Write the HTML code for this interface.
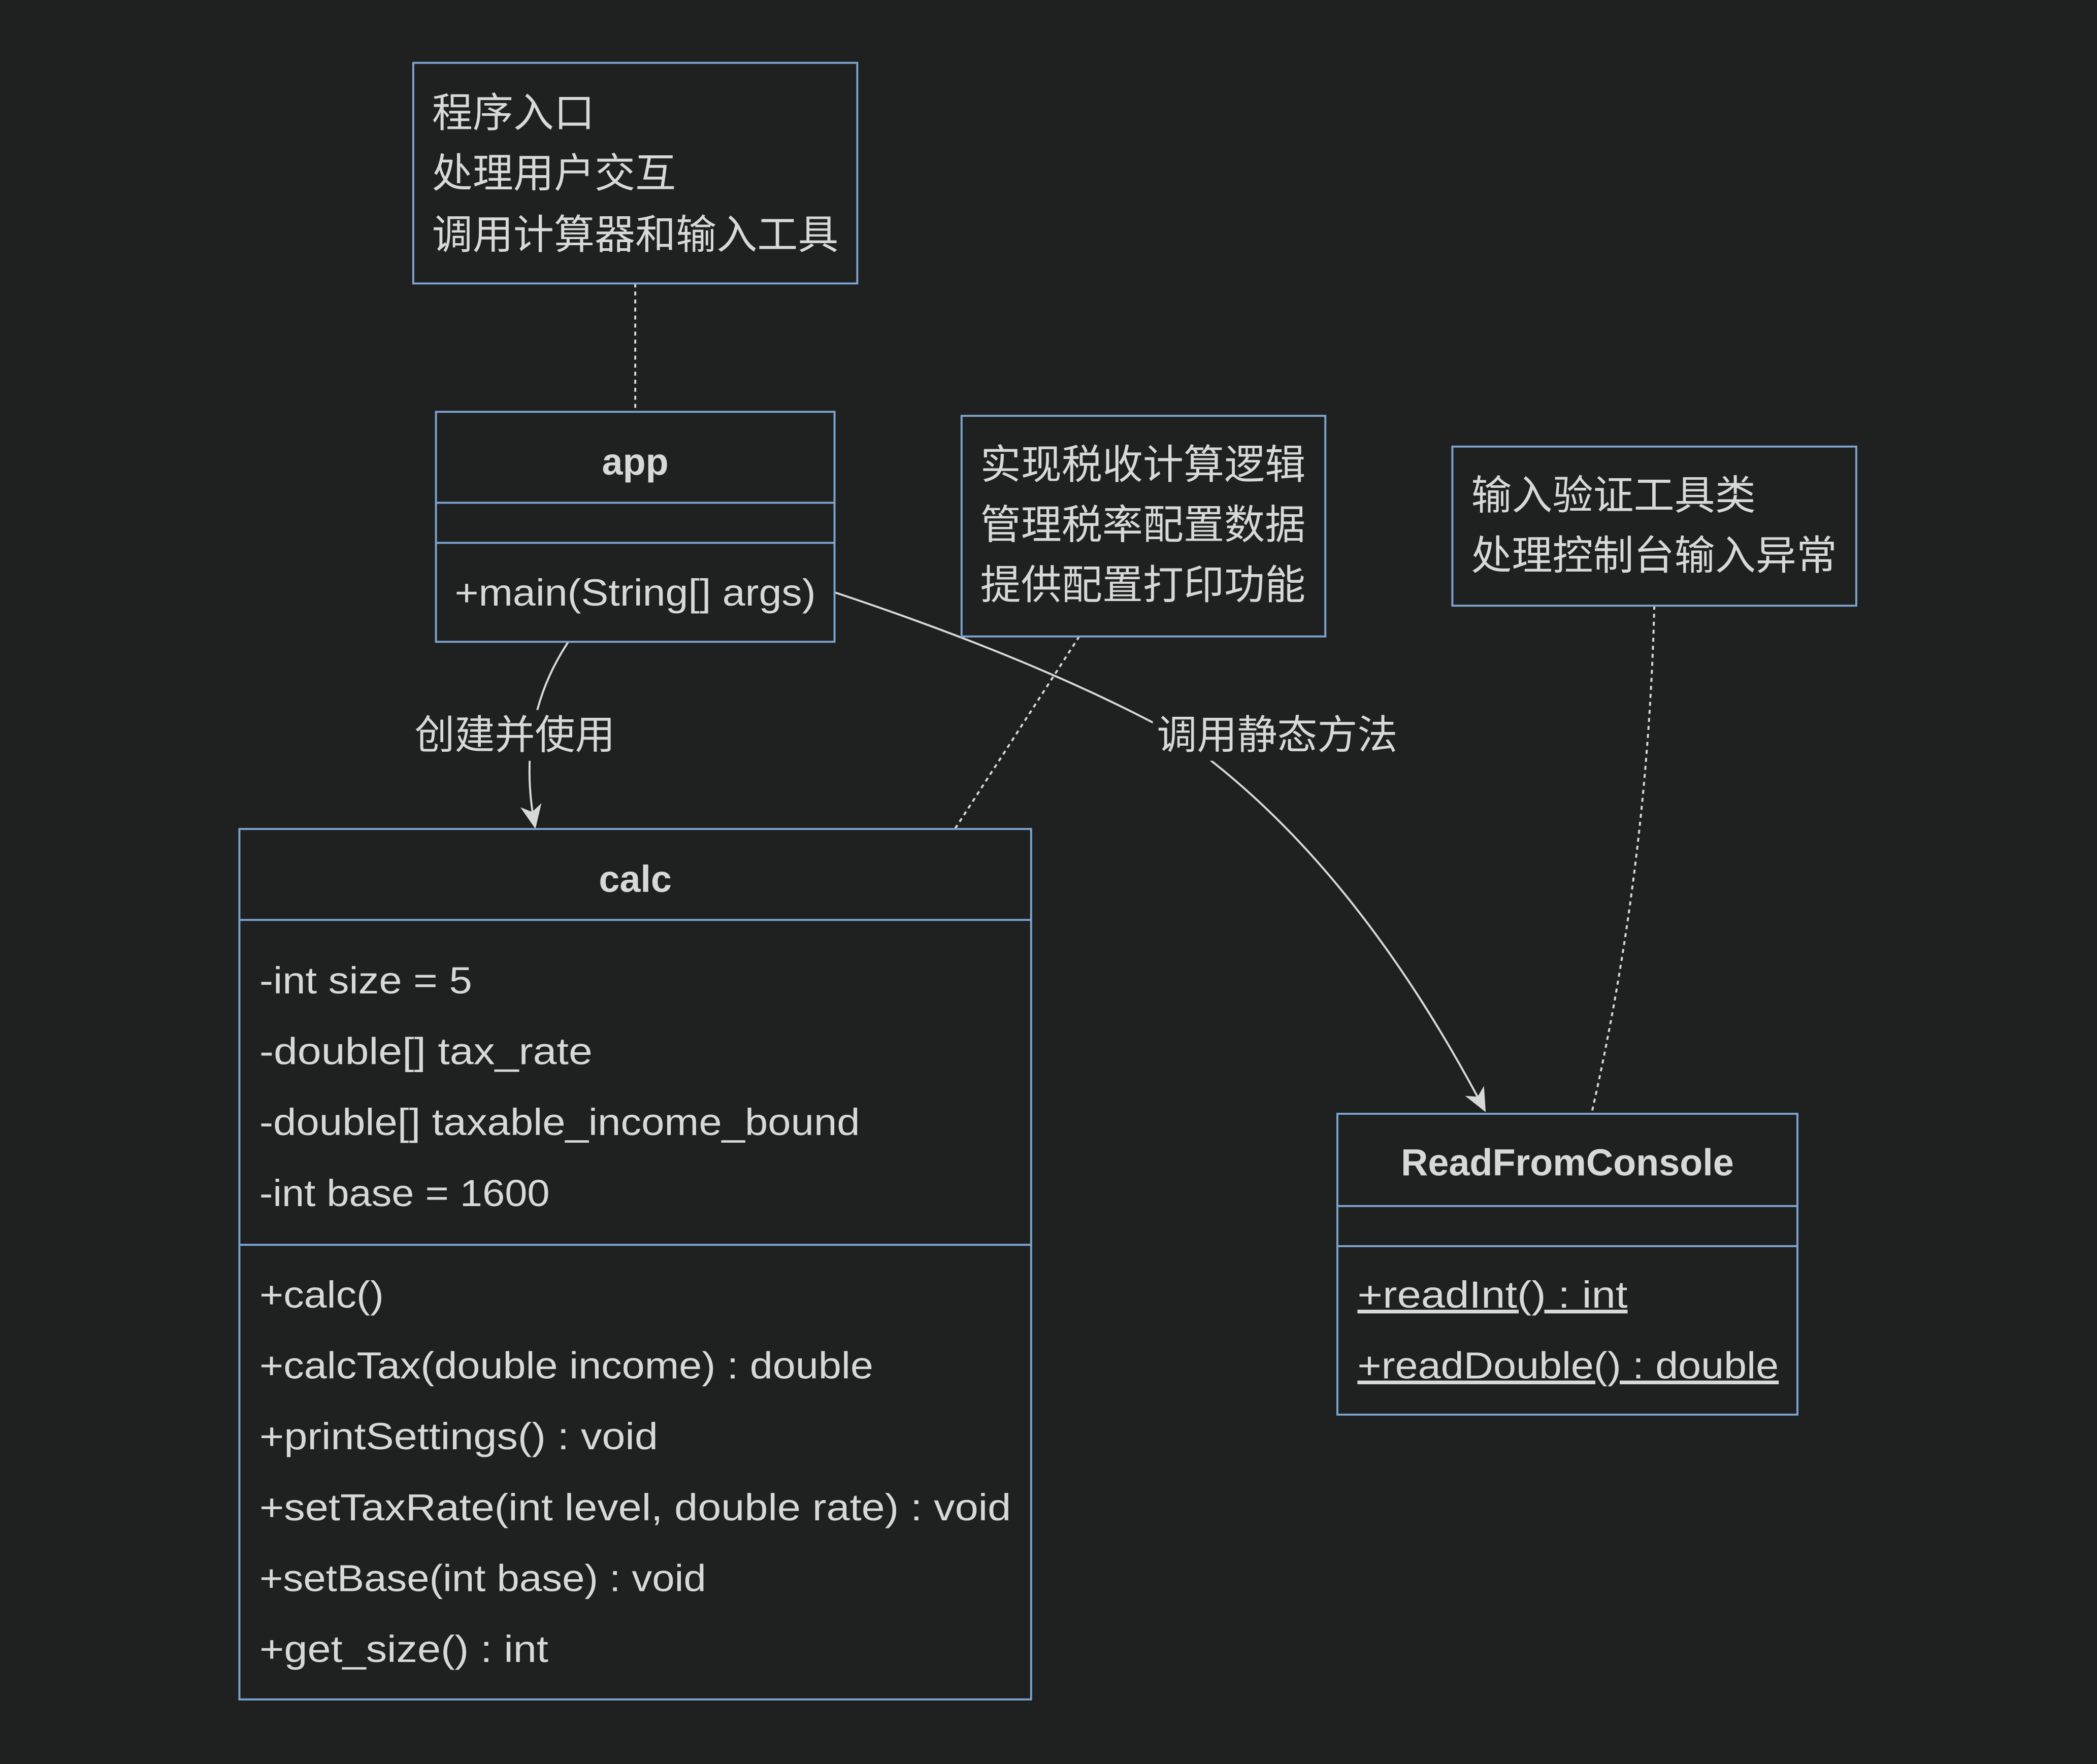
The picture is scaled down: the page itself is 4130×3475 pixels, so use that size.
<!DOCTYPE html>
<html><head><meta charset="utf-8"><style>
html,body{margin:0;padding:0;background:#1f2020;}
svg{display:block}
text{font-family:"Liberation Sans","Noto Sans CJK SC",sans-serif;fill:#d8d8d8;}
</style></head><body>
<svg width="4130" height="3475" viewBox="0 0 1568 1319.3" preserveAspectRatio="none" xmlns="http://www.w3.org/2000/svg">
<rect width="1568" height="1320" fill="#1f2020"/>
<defs><marker id="ah" markerWidth="18" markerHeight="18" refX="16" refY="9" orient="auto" markerUnits="userSpaceOnUse"><path d="M0,1 L18,9 L0,17 L5,9 z" fill="#d8d8d8"/></marker></defs>
<g fill="none" stroke="#d8d8d8" stroke-width="1.5">
<path d="M475,212 L475,308" stroke-dasharray="3,3"/>
<path d="M807,476 L714,620" stroke-dasharray="3,3"/>
<path d="M1237,453 Q1232,650 1190,833" stroke-dasharray="3,3"/>
<path d="M425,480 Q385,540 400,618" marker-end="url(#ah)"/>
<path d="M624,443 Q780,495 880,550 Q1010,640 1110,830" marker-end="url(#ah)"/>
</g>
<g fill="#1f2020" stroke="#7ba3cd" stroke-width="1.5">
<rect x="309" y="47" width="332" height="165"/>
<rect x="719" y="311" width="272" height="165"/>
<rect x="1086" y="334" width="302" height="119"/>
<rect x="326" y="308" width="298" height="172"/>
<rect x="179" y="620" width="592" height="651"/>
<rect x="1000" y="833" width="344" height="225"/>
<path d="M326,376H624M326,406H624M179,688H771M179,931H771M1000,902H1344M1000,932H1344" fill="none"/>
</g>
<g font-size="30.4">
<text x="323" y="95">程序入口</text>
<text x="323" y="140">处理用户交互</text>
<text x="323" y="186">调用计算器和输入工具</text>
<text x="733" y="358">实现税收计算逻辑</text>
<text x="733" y="403">管理税率配置数据</text>
<text x="733" y="448">提供配置打印功能</text>
<text x="1100" y="381">输入验证工具类</text>
<text x="1100" y="426">处理控制台输入异常</text>
</g>
<rect x="308" y="531" width="154" height="38" fill="#1f2020"/>
<text x="385" y="560" font-size="30" text-anchor="middle">创建并使用</text>
<rect x="862" y="531" width="186" height="38" fill="#1f2020"/>
<text x="955" y="560" font-size="30" text-anchor="middle">调用静态方法</text>
<g font-size="28" lengthAdjust="spacingAndGlyphs">
<text x="475" y="355" text-anchor="middle" font-weight="bold">app</text>
<text x="340" y="453" textLength="270" lengthAdjust="spacingAndGlyphs">+main(String[] args)</text>
<text x="475" y="667" text-anchor="middle" font-weight="bold">calc</text>
<text x="194" y="743" textLength="159" lengthAdjust="spacingAndGlyphs">-int size = 5</text>
<text x="194" y="796" textLength="249" lengthAdjust="spacingAndGlyphs">-double[] tax_rate</text>
<text x="194" y="849" textLength="449" lengthAdjust="spacingAndGlyphs">-double[] taxable_income_bound</text>
<text x="194" y="902" textLength="217" lengthAdjust="spacingAndGlyphs">-int base = 1600</text>
<text x="194" y="978" textLength="93" lengthAdjust="spacingAndGlyphs">+calc()</text>
<text x="194" y="1031" textLength="459" lengthAdjust="spacingAndGlyphs">+calcTax(double income) : double</text>
<text x="194" y="1084" textLength="298" lengthAdjust="spacingAndGlyphs">+printSettings() : void</text>
<text x="194" y="1137" textLength="562" lengthAdjust="spacingAndGlyphs">+setTaxRate(int level, double rate) : void</text>
<text x="194" y="1190" textLength="334" lengthAdjust="spacingAndGlyphs">+setBase(int base) : void</text>
<text x="194" y="1243" textLength="216" lengthAdjust="spacingAndGlyphs">+get_size() : int</text>
<text x="1172" y="879" text-anchor="middle" font-weight="bold">ReadFromConsole</text>
<text x="1015" y="978" text-decoration="underline" textLength="202" lengthAdjust="spacingAndGlyphs">+readInt() : int</text>
<text x="1015" y="1031" text-decoration="underline" textLength="315" lengthAdjust="spacingAndGlyphs">+readDouble() : double</text>
</g>
</svg>
</body></html>
